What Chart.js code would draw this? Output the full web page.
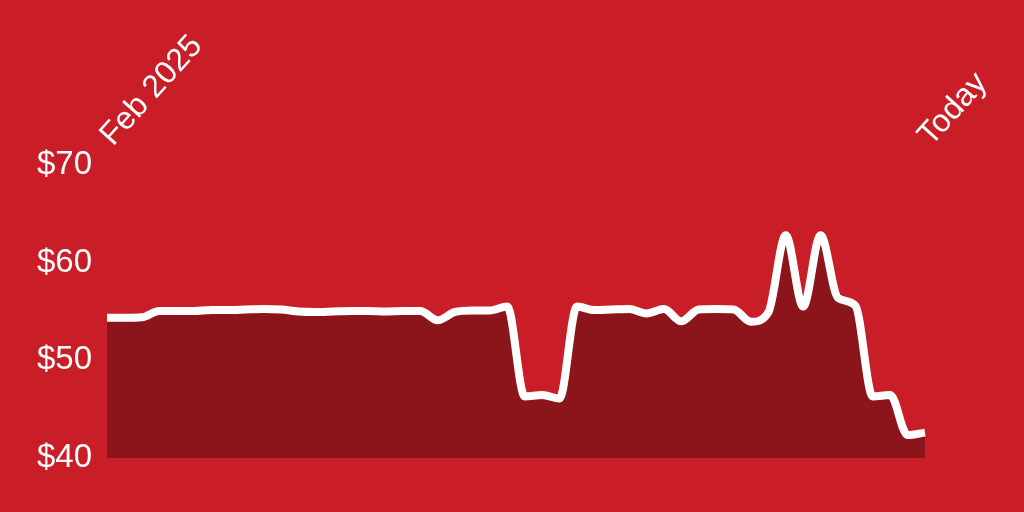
<!DOCTYPE html>
<html>
<head>
<meta charset="utf-8">
<script src="https://cdn.jsdelivr.net/npm/chart.js@4/dist/chart.umd.min.js"></script>
<style>
    html, body { margin: 0; padding: 0; background: #C91D27; }
    canvas { display: block; }
</style>
</head>
<body>
<canvas id="price-chart" width="1024" height="512"></canvas>
<script>
// Ukentlige priser fra februar 2025 til i dag
const weeks = [
    'W1', 'W2', 'W3', 'W4', 'W5', 'W6', 'W7', 'W8', 'W9', 'W10', 'W11', 'W12',
    'W13', 'W14', 'W15', 'W16', 'W17', 'W18', 'W19', 'W20', 'W21', 'W22', 'W23', 'W24',
    'W25', 'W26', 'W27', 'W28', 'W29', 'W30', 'W31', 'W32', 'W33', 'W34', 'W35', 'W36',
    'W37', 'W38', 'W39', 'W40', 'W41', 'W42', 'W43', 'W44', 'W45', 'W46', 'W47', 'W48'
];
const prices = [
    54.35, 54.35, 54.4, 55.05, 55.05, 55.05, 55.15, 55.15, 55.2, 55.25, 55.2, 55.0,
    54.95, 55.0, 55.05, 55.05, 55.0, 55.05, 55.05, 54.1, 54.95, 55.1, 55.1, 55.5,
    46.3, 46.45, 46.1, 55.5, 55.15, 55.2, 55.25, 54.8, 55.25, 54.0, 55.2, 55.25,
    55.2, 53.95, 54.9, 62.8, 55.5, 62.8, 56.4, 55.6, 46.3, 46.45, 42.35, 42.6
];
const tickLabels = ['Feb 2025', 'Today'];
const yTicks = [40, 50, 60, 70];

const labelFont = { family: "'Liberation Sans', Arial, sans-serif", size: 33 };

const ctx = document.getElementById('price-chart').getContext('2d');
new Chart(ctx, {
    type: 'line',
    data: {
        labels: weeks,
        datasets: [
            {
                data: prices,
                borderColor: '#FFFFFF',
                borderWidth: 8,
                borderJoinStyle: 'round',
                backgroundColor: '#8B151B',
                fill: 'start',
                pointRadius: 0,
                cubicInterpolationMode: 'monotone'
            }
        ]
    },
    options: {
        responsive: false,
        devicePixelRatio: 1,
        animation: false,
        layout: {
            padding: { left: 35, right: 99, top: 0, bottom: 54 }
        },
        plugins: {
            legend: { display: false },
            tooltip: { enabled: false }
        },
        scales: {
            x: {
                position: 'top',
                grid: { display: false, drawTicks: false },
                border: { display: false },
                afterFit: scale => { scale.height = 165; },
                ticks: {
                    autoSkip: false,
                    minRotation: 48,
                    maxRotation: 48,
                    padding: 11,
                    labelOffset: 28,
                    color: '#FFFFFF',
                    font: { ...labelFont, size: 32 },
                    callback: (value, index) => {
                        if (index === 0) return tickLabels[0];
                        if (index === weeks.length - 1) return tickLabels[1];
                        return '';
                    }
                }
            },
            y: {
                min: yTicks[0],
                max: yTicks[yTicks.length - 1],
                grid: { display: false, drawTicks: false },
                border: { display: false },
                afterFit: scale => { scale.width = 72; },
                afterBuildTicks: scale => {
                    scale.ticks = yTicks.map(v => ({ value: v }));
                },
                ticks: {
                    padding: 15,
                    color: '#FFFFFF',
                    font: labelFont,
                    callback: value => '$' + value
                }
            }
        }
    }
});
</script>
</body>
</html>
